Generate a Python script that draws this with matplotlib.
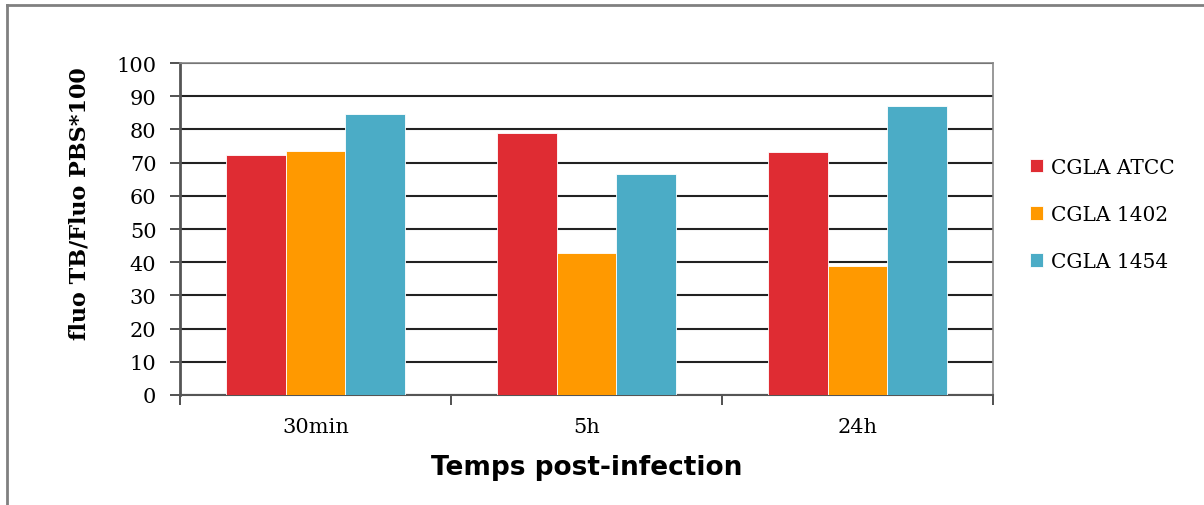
import numpy as np
import matplotlib.pyplot as plt
from matplotlib.lines import Line2D

categories = ["30min", "5h", "24h"]
series = ["CGLA ATCC", "CGLA 1402", "CGLA 1454"]
atcc = [72.4, 78.9, 73.2]
cgla1402 = [73.4, 42.8, 38.9]
cgla1454 = [84.6, 66.6, 87.0]
colors = ["#DF2C33", "#FF9900", "#4BACC6"]

fig = plt.figure(figsize=(12.04, 5.06), dpi=100)
ax = fig.add_axes([0.1495, 0.2174, 0.8248 - 0.1495, 0.8735 - 0.2174])

x = np.arange(len(categories))
w = 0.221
for i, (vals, lab) in enumerate(zip([atcc, cgla1402, cgla1454], series)):
    ax.bar(x + (i - 1) * w, vals, width=w, color=colors[i], label=lab,
           edgecolor="#ffffff", linewidth=0.6, zorder=3)

ax.set_xlim(-0.5, 2.5)
ax.set_ylim(0, 100)
ax.set_yticks(np.arange(0, 101, 10))
ax.yaxis.grid(True, color="#222222", linewidth=1.5, zorder=0)
ax.set_axisbelow(True)

ax.set_xticks(x)
ax.set_xticklabels(categories)
ax.set_xticks([-0.5, 0.5, 1.5, 2.5], minor=True)
ax.tick_params(axis="x", which="major", length=0, pad=16)
ax.tick_params(axis="x", which="minor", length=7, width=1.2, color="#333333", direction="out")
ax.tick_params(axis="y", length=7, width=1.2, color="#333333", direction="out", pad=10)

for lbl in ax.get_xticklabels() + ax.get_yticklabels():
    lbl.set_family("DejaVu Serif")
    lbl.set_fontsize(15)

for s in ax.spines.values():
    s.set_color("#888888")
    s.set_linewidth(1.2)
ax.spines["left"].set_color("#555555")
ax.spines["left"].set_linewidth(2)
ax.spines["bottom"].set_color("#555555")
ax.spines["bottom"].set_linewidth(1.5)

ax.set_ylabel("fluo TB/Fluo PBS*100", family="DejaVu Serif", fontweight="bold",
              fontsize=16)
ax.yaxis.set_label_coords(-0.11, 0.58)
ax.set_xlabel("Temps post-infection", family="DejaVu Sans", fontweight="bold",
              fontsize=19)
ax.xaxis.set_label_coords(0.5, -0.178)

leg = ax.legend(loc="center left", bbox_to_anchor=(1.0227, 0.5436), frameon=False,
                prop={"family": "DejaVu Serif", "size": 14.5},
                handlelength=0.65, handleheight=0.65, handletextpad=0.4,
                labelspacing=1.4)

# outer chart frame (top and left edges visible)
fig.add_artist(Line2D([7 / 1204, 1], [1 - 6 / 506, 1 - 6 / 506], color="#808080",
                      linewidth=2, transform=fig.transFigure))
fig.add_artist(Line2D([7 / 1204, 7 / 1204], [0, 1 - 6 / 506], color="#808080",
                      linewidth=2, transform=fig.transFigure))

fig.savefig("out.png", dpi=100, facecolor="white")
plt.close(fig)
